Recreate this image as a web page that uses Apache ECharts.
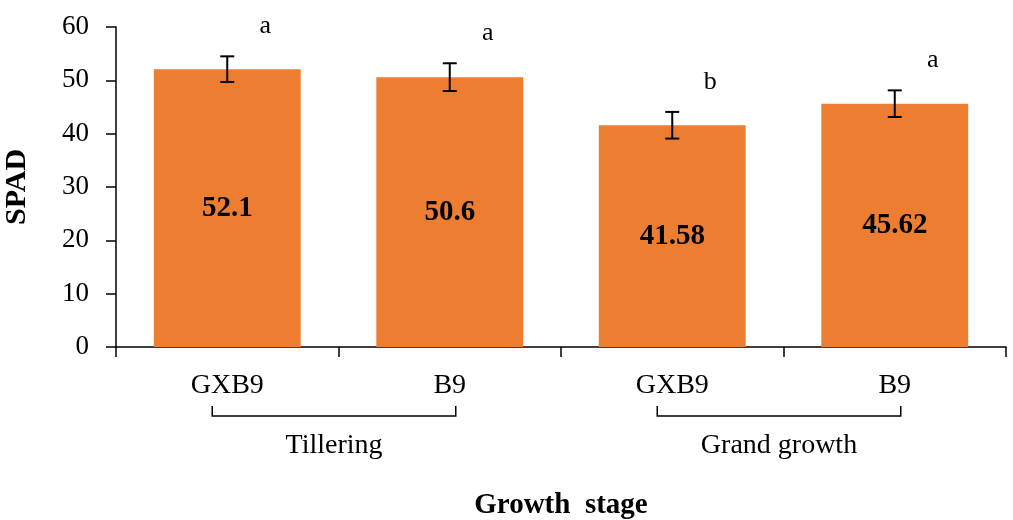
<!DOCTYPE html>
<html>
<head>
<meta charset="utf-8">
<script src="https://cdn.jsdelivr.net/npm/echarts@6/dist/echarts.min.js"></script>
<style>html,body{margin:0;padding:0;background:#fff}#c{width:1013px;height:520px}</style>
</head>
<body>
<div id="c"></div>
<script>
var categories = ['GXB9', 'B9', 'GXB9', 'B9'];
var spadValues = [52.1, 50.6, 41.58, 45.62];
var errors = [2.4, 2.6, 2.5, 2.5];
var letters = ['a', 'a', 'b', 'a'];
var stageNames = ['Tillering', 'Grand growth'];
var stageFrom = [0, 2];
var stageTo = [1, 3];
var yTicks = [0, 10, 20, 30, 40, 50, 60];

var FONT = '"Liberation Serif", "Times New Roman", serif';
var chart = echarts.init(document.getElementById('c'));

var errData = spadValues.map(function (v, i) { return [i, v, errors[i], letters[i]]; });
var stageData = stageNames.map(function (n, i) { return [stageFrom[i], stageTo[i], n]; });

chart.setOption({
  animation: false,
  backgroundColor: '#fff',
  grid: { left: 116, right: 7, top: 27, bottom: 173, containLabel: false, outerBoundsMode: 'none' },
  xAxis: {
    type: 'category',
    data: categories,
    axisLine: { lineStyle: { color: '#000', width: 1.5 } },
    axisTick: { show: true, length: 10, lineStyle: { color: '#000', width: 1.5 } },
    axisLabel: { color: '#000', fontFamily: FONT, fontSize: 28, margin: 25 },
    name: 'Growth  stage',
    nameLocation: 'middle',
    nameGap: 144,
    nameTextStyle: { color: '#000', fontFamily: FONT, fontSize: 29, fontWeight: 'bold' }
  },
  yAxis: {
    type: 'value',
    min: yTicks[0],
    max: yTicks[yTicks.length - 1],
    interval: 10,
    splitLine: { show: false },
    axisLine: { show: true, lineStyle: { color: '#000', width: 1.5 } },
    axisTick: { show: true, length: 10, lineStyle: { color: '#000', width: 1.5 } },
    axisLabel: { color: '#000', fontFamily: FONT, fontSize: 27, margin: 27 },
    name: 'SPAD',
    nameLocation: 'middle',
    nameGap: 84,
    nameRotate: 90,
    nameTextStyle: { color: '#000', fontFamily: FONT, fontSize: 30, fontWeight: 'bold' }
  },
  series: [
    {
      type: 'bar',
      data: spadValues,
      barWidth: '66%',
      itemStyle: { color: '#ED7D31' },
      label: {
        show: true,
        position: 'inside',
        color: '#000',
        fontFamily: FONT,
        fontSize: 29,
        fontWeight: 'bold'
      },
      z: 2
    },
    {
      type: 'custom',
      data: errData,
      z: 5,
      clip: false,
      renderItem: function (params, api) {
        var i = api.value(0), v = api.value(1), e = api.value(2);
        var top = api.coord([i, v + e]);
        var bot = api.coord([i, v - e]);
        var x = top[0], hw = 7;
        var st = { stroke: '#000', lineWidth: 2 };
        return {
          type: 'group',
          children: [
            { type: 'line', shape: { x1: x, y1: top[1], x2: x, y2: bot[1] }, style: st },
            { type: 'line', shape: { x1: x - hw, y1: top[1], x2: x + hw, y2: top[1] }, style: st },
            { type: 'line', shape: { x1: x - hw, y1: bot[1], x2: x + hw, y2: bot[1] }, style: st },
            { type: 'text', x: x + 38, y: top[1] - 30,
              style: { text: letters[params.dataIndex], fill: '#000', font: '26px ' + FONT, align: 'center', verticalAlign: 'middle' } }
          ]
        };
      }
    },
    {
      type: 'custom',
      data: stageData,
      z: 5,
      clip: false,
      renderItem: function (params, api) {
        var a = api.coord([api.value(0), 0]);
        var b = api.coord([api.value(1), 0]);
        var x1 = a[0] - 15, x2 = b[0] + 6;
        var yTop = a[1] + 59, yBot = a[1] + 69;
        var st = { stroke: '#000', lineWidth: 1.5, fill: null };
        return {
          type: 'group',
          children: [
            { type: 'polyline', shape: { points: [[x1, yTop], [x1, yBot], [x2, yBot], [x2, yTop]] }, style: st },
            { type: 'text', x: (x1 + x2) / 2, y: yBot + 30,
              style: { text: stageNames[params.dataIndex], fill: '#000', font: '28px ' + FONT, align: 'center', verticalAlign: 'middle' } }
          ]
        };
      }
    }
  ]
});
</script>
</body>
</html>
